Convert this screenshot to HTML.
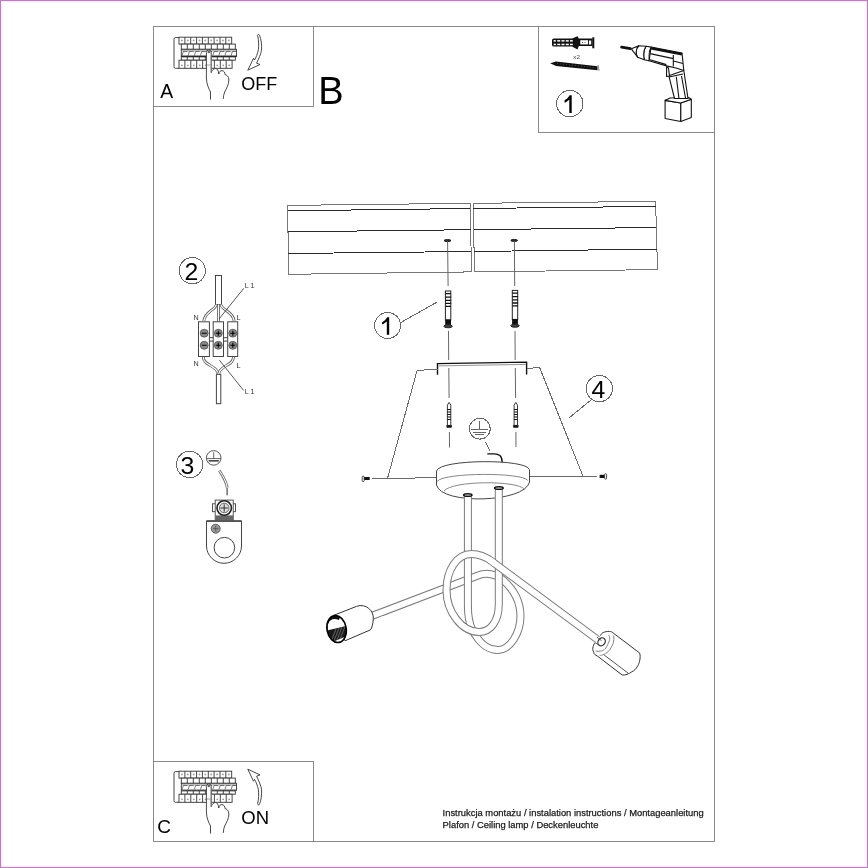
<!DOCTYPE html>
<html><head><meta charset="utf-8">
<style>
html,body{margin:0;padding:0;background:#fff;}
body{width:868px;height:868px;overflow:hidden;position:relative;}
#bd{position:absolute;left:0;top:0;width:866px;height:866px;border:1px solid #b882b8;}
#bd3{position:absolute;left:2px;top:2px;width:862px;height:862px;border:1px solid #fff6ff;}
#bd2{position:absolute;left:1px;top:1px;width:864px;height:864px;border:1px solid #fbe6fb;}
svg{position:absolute;left:0;top:0;will-change:transform;}
text{font-family:"Liberation Sans",sans-serif;}
</style></head><body>
<div id="bd"></div><div id="bd2"></div><div id="bd3"></div>
<svg width="868" height="868" viewBox="0 0 868 868">
<g id="frame" fill="none" stroke="#8a8a8a" stroke-width="1" shape-rendering="crispEdges">
  <rect x="153.5" y="26.5" width="561" height="815"/>
  <path d="M313.5 26.5V106.5H153.5"/>
  <path d="M538.5 26.5V132.5H714.5"/>
  <path d="M153.5 761.5H313.5V841.5"/>
</g>
<defs>
<g id="panelA">
<path d="M179 37.6H175.5Q174 37.6 174 39.2V66.7Q174 68.3 175.5 68.3H179" fill="none" stroke="#333" stroke-width="0.9"/>
<rect x="179" y="37.2" width="52.7" height="6.9" fill="#fff" stroke="#333" stroke-width="0.9"/>
<path d="M184.9 37.2V44.1" stroke="#333" stroke-width="0.9"/>
<path d="M190.7 37.2V44.1" stroke="#333" stroke-width="0.9"/>
<path d="M196.6 37.2V44.1" stroke="#333" stroke-width="0.9"/>
<path d="M202.4 37.2V44.1" stroke="#333" stroke-width="0.9"/>
<path d="M208.3 37.2V44.1" stroke="#333" stroke-width="0.9"/>
<path d="M214.1 37.2V44.1" stroke="#333" stroke-width="0.9"/>
<path d="M220.0 37.2V44.1" stroke="#333" stroke-width="0.9"/>
<path d="M225.8 37.2V44.1" stroke="#333" stroke-width="0.9"/>
<circle cx="181.9" cy="40.4" r="0.9" fill="#999"/>
<circle cx="187.8" cy="40.4" r="0.9" fill="#999"/>
<circle cx="193.6" cy="40.4" r="0.9" fill="#999"/>
<circle cx="199.5" cy="40.4" r="0.9" fill="#999"/>
<circle cx="205.3" cy="40.4" r="0.9" fill="#999"/>
<circle cx="211.2" cy="40.4" r="0.9" fill="#999"/>
<circle cx="217.1" cy="40.4" r="0.9" fill="#999"/>
<circle cx="222.9" cy="40.4" r="0.9" fill="#999"/>
<circle cx="228.8" cy="40.4" r="0.9" fill="#999"/>
<rect x="181.3" y="44.1" width="54.0" height="5.2" fill="#fff" stroke="#333" stroke-width="0.9"/>
<path d="M187.3 44.1V49.3" stroke="#333" stroke-width="0.9"/>
<path d="M193.3 44.1V49.3" stroke="#333" stroke-width="0.9"/>
<path d="M199.3 44.1V49.3" stroke="#333" stroke-width="0.9"/>
<path d="M205.3 44.1V49.3" stroke="#333" stroke-width="0.9"/>
<path d="M211.3 44.1V49.3" stroke="#333" stroke-width="0.9"/>
<path d="M217.3 44.1V49.3" stroke="#333" stroke-width="0.9"/>
<path d="M223.3 44.1V49.3" stroke="#333" stroke-width="0.9"/>
<path d="M229.3 44.1V49.3" stroke="#333" stroke-width="0.9"/>
<rect x="181.3" y="49.3" width="55.2" height="6.9" fill="#fff" stroke="#333" stroke-width="0.9"/>
<path d="M181.3 50.9H236.5" stroke="#666" stroke-width="0.7"/>
<path d="M182.1 55.5L183.3 51.5H187.4" fill="none" stroke="#444" stroke-width="0.7"/>
<path d="M188.2 55.5L189.4 51.5H193.6" fill="none" stroke="#444" stroke-width="0.7"/>
<path d="M194.4 55.5L195.6 51.5H199.7" fill="none" stroke="#444" stroke-width="0.7"/>
<path d="M200.5 55.5L201.7 51.5H205.8" fill="none" stroke="#444" stroke-width="0.7"/>
<path d="M206.6 55.5L207.8 51.5H212.0" fill="none" stroke="#444" stroke-width="0.7"/>
<path d="M212.8 55.5L214.0 51.5H218.1" fill="none" stroke="#444" stroke-width="0.7"/>
<path d="M218.9 55.5L220.1 51.5H224.2" fill="none" stroke="#444" stroke-width="0.7"/>
<path d="M225.0 55.5L226.2 51.5H230.4" fill="none" stroke="#444" stroke-width="0.7"/>
<path d="M231.2 55.5L232.4 51.5H236.5" fill="none" stroke="#444" stroke-width="0.7"/>
<path d="M181.3 56.3H236.5" stroke="currentColor" stroke-width="1.3"/>
<rect x="181.3" y="56.9" width="54.0" height="3.3" fill="#fff" stroke="#333" stroke-width="0.9"/>
<path d="M187.3 56.9V60.2" stroke="#333" stroke-width="0.9"/>
<path d="M193.3 56.9V60.2" stroke="#333" stroke-width="0.9"/>
<path d="M199.3 56.9V60.2" stroke="#333" stroke-width="0.9"/>
<path d="M205.3 56.9V60.2" stroke="#333" stroke-width="0.9"/>
<path d="M211.3 56.9V60.2" stroke="#333" stroke-width="0.9"/>
<path d="M217.3 56.9V60.2" stroke="#333" stroke-width="0.9"/>
<path d="M223.3 56.9V60.2" stroke="#333" stroke-width="0.9"/>
<path d="M229.3 56.9V60.2" stroke="#333" stroke-width="0.9"/>
<rect x="179" y="60.2" width="53.1" height="8.1" fill="#fff" stroke="#333" stroke-width="0.9"/>
<path d="M184.9 60.2V68.3" stroke="#333" stroke-width="0.9"/>
<path d="M190.8 60.2V68.3" stroke="#333" stroke-width="0.9"/>
<path d="M196.7 60.2V68.3" stroke="#333" stroke-width="0.9"/>
<path d="M202.6 60.2V68.3" stroke="#333" stroke-width="0.9"/>
<path d="M208.5 60.2V68.3" stroke="#333" stroke-width="0.9"/>
<path d="M214.4 60.2V68.3" stroke="#333" stroke-width="0.9"/>
<path d="M220.3 60.2V68.3" stroke="#333" stroke-width="0.9"/>
<path d="M226.2 60.2V68.3" stroke="#333" stroke-width="0.9"/>
<circle cx="181.9" cy="65.3" r="0.9" fill="#999"/>
<circle cx="187.8" cy="65.3" r="0.9" fill="#999"/>
<circle cx="193.8" cy="65.3" r="0.9" fill="#999"/>
<circle cx="199.7" cy="65.3" r="0.9" fill="#999"/>
<circle cx="205.6" cy="65.3" r="0.9" fill="#999"/>
<circle cx="211.4" cy="65.3" r="0.9" fill="#999"/>
<circle cx="217.3" cy="65.3" r="0.9" fill="#999"/>
<circle cx="223.2" cy="65.3" r="0.9" fill="#999"/>
<circle cx="229.2" cy="65.3" r="0.9" fill="#999"/>
<path d="M210.5 99.6V92C209 89 206.4 84 206.4 78V52.5Q206.4 50 208.8 50Q211.2 50 211.2 52.5V72.6C212.2 70 213.5 68.5 215.2 68.5C217.2 68.5 218.5 70.5 218.8 74C219.2 71.5 220.5 70.6 222 70.6C223.8 70.6 225 72.5 225.1 74.7C226.5 74.7 228.9 76.5 228.9 80C228.9 85 226 89 224.7 92C223.8 94 223.3 96.5 223.3 98.9" fill="#fff" stroke="#333" stroke-width="0.9"/>
<path d="M207 65H210.6M211.2 52.5V72.6" stroke="#888" stroke-width="0.8" fill="none"/>
<circle cx="208.8" cy="52" r="1.3" fill="#666"/>
</g>
<g id="arrowOff"><path d="M257.6 35.7C258.8 40 258.8 46 258.4 49.7C257.5 54 256 57.5 254.5 60L253.5 58.2L247.8 70.2L260 64.5L256.6 63.2C258.5 59 261 54 261.5 50.2C262 45 261 39 259.7 35.7C259 34 258 34 257.6 35.7Z" fill="#fff" stroke="#333" stroke-width="0.9"/></g>
</defs>
<use href="#panelA" style="color:#000"/>
<use href="#panelA" transform="translate(0 734)" style="color:#555"/>
<use href="#arrowOff"/>
<use href="#arrowOff" transform="translate(0 839.4) scale(1 -1)"/>
<g id="item2">
<circle cx="192.25" cy="270.65" r="13.1" fill="none" stroke="#666" stroke-width="1" shape-rendering="crispEdges"/>
<rect x="215.5" y="275.5" width="6" height="29" fill="#fff" stroke="#444" stroke-width="1"/>
<rect x="216.4" y="374.3" width="4.4" height="29.4" fill="#fff" stroke="#444" stroke-width="1"/>
<g fill="none" stroke-linecap="butt">
<path id="w1" d="M216.3 304.5C216 310 205 311 203.8 321" stroke="#555" stroke-width="2.8"/>
<path d="M216.3 304.5C216 310 205 311 203.8 321" stroke="#fff" stroke-width="1.2"/>
<path d="M221 304.5C221 310 233 311 234.2 321" stroke="#555" stroke-width="2.8"/>
<path d="M221 304.5C221 310 233 311 234.2 321" stroke="#fff" stroke-width="1.2"/>
<path d="M218.6 304.5V321.8" stroke="#555" stroke-width="2.8"/>
<path d="M218.6 304.5V321.8" stroke="#fff" stroke-width="1.2"/>
<path d="M203.3 357C203.3 366 217 365 218.3 374" stroke="#555" stroke-width="2.8"/>
<path d="M203.3 357C203.3 366 217 365 218.3 374" stroke="#fff" stroke-width="1.2"/>
<path d="M233.5 357C233.5 366 220 365 218.6 374" stroke="#555" stroke-width="2.8"/>
<path d="M233.5 357C233.5 366 220 365 218.6 374" stroke="#fff" stroke-width="1.2"/>
</g>
<g fill="#fff" stroke="#444" stroke-width="1">
<rect x="198.5" y="321.8" width="10.9" height="34.7"/>
<rect x="213.2" y="321.8" width="10.3" height="34.7"/>
<rect x="227.7" y="321.8" width="10" height="34.7"/>
<path d="M209.4 337.7H213.2M209.4 341.1H213.2M223.5 337.7H227.7M223.5 341.1H227.7"/>
</g>
<g fill="#8a8a8a" stroke="#333" stroke-width="0.6">
<circle cx="204.2" cy="333.2" r="4"/><circle cx="218.3" cy="333.2" r="4"/><circle cx="232.8" cy="333.2" r="4"/>
<circle cx="204.2" cy="345.3" r="4"/><circle cx="218.3" cy="345.3" r="4"/><circle cx="232.8" cy="345.3" r="4"/>
</g>
<path d="M201.7 333.2H206.7M201.7 345.3H206.7M215.8 333.2H220.8M218.3 330.7V335.7M215.8 345.3H220.8M218.3 342.8V347.8M230.3 333.2H235.3M232.8 330.7V335.7M230.3 345.3H235.3M232.8 342.8V347.8" stroke="#000" stroke-width="1.1"/>
<path d="M243.7 288.4L219 319M219.4 360.2L243.6 390.4" stroke="#444" stroke-width="0.9" fill="none"/>
<g font-size="7.2" fill="#333">
<text x="244.8" y="287.6">L 1</text>
<text x="244.8" y="393.6">L 1</text>
<text x="193.6" y="320.4">N</text>
<text x="236.6" y="320.4">L</text>
<text x="193.6" y="365.8">N</text>
<text x="236.6" y="367.8">L</text>
</g>
</g>
<g id="item3">
<circle cx="189.65" cy="464.45" r="13.2" fill="none" stroke="#666" stroke-width="1" shape-rendering="crispEdges"/>
<circle cx="213.7" cy="457.9" r="7.3" fill="none" stroke="#444" stroke-width="0.9"/>
<path d="M213.7 452.2V458.6M206.4 458.6H221M208.7 460.8H218.8" stroke="#555" stroke-width="0.9"/>
<path d="M208.7 460.8H218.8" stroke="#444" stroke-width="1.4"/>
<path d="M219.3 470.6C222 475 226.5 481 227.2 488" stroke="#777" stroke-width="2.8" fill="none"/>
<path d="M219.3 470.6C222 475 226.5 481 227.2 488" stroke="#fff" stroke-width="1" fill="none"/><path d="M227.1 488V495.3" stroke="#555" stroke-width="1.3"/>
<path d="M206.5 520.9H241.5V546C241.5 555.5 233.5 563.3 224 563.3C214.5 563.3 206.5 555.5 206.5 546Z" fill="#fff" stroke="#444" stroke-width="1"/>
<path d="M206.5 521.2H241.5" stroke="#555" stroke-width="1.8"/>
<circle cx="224.4" cy="547.7" r="10.3" fill="none" stroke="#444" stroke-width="1"/>
<circle cx="215.7" cy="528.7" r="4.5" fill="#999" stroke="#333" stroke-width="0.7"/>
<path d="M213 528.7H218.4M215.7 526V531.4" stroke="#444" stroke-width="0.7"/>
<rect x="212.5" y="503.8" width="23" height="7.9" fill="#fff" stroke="#444" stroke-width="0.9"/>
<rect x="215.2" y="500.1" width="18" height="20.3" fill="#fff" stroke="#444" stroke-width="0.9"/>
<rect x="215.2" y="515.4" width="18" height="5" fill="#666"/>
<circle cx="224.2" cy="508" r="7.2" fill="#fff" stroke="#222" stroke-width="1.6"/>
<circle cx="224.2" cy="508" r="4.8" fill="#ddd" stroke="#444" stroke-width="0.8"/>
<path d="M220.5 508H227.9M224.2 504.3V511.7" stroke="#333" stroke-width="1"/>
</g>
<g id="drillbox">
<circle cx="569.8" cy="103.6" r="13.2" fill="none" stroke="#666" stroke-width="1" shape-rendering="crispEdges"/>
<g>
<path d="M552 40Q552 38.5 554 38.5H572L577.5 36.2L578.8 38.5H592.5V46H578.8L577.5 49.4L572 46.5H554Q552 46.5 552 45Z" fill="#111"/>
<g fill="#fff">
<rect x="553.6" y="40.1" width="2.3" height="1.5"/><rect x="557.2" y="40.1" width="3" height="1.5"/><rect x="561.5" y="40.1" width="3" height="1.5"/><rect x="565.8" y="40.1" width="3" height="1.5"/><rect x="570" y="40.1" width="2.8" height="1.5"/>
<rect x="553.6" y="43.7" width="2.3" height="1.5"/><rect x="557.2" y="43.7" width="3" height="1.5"/><rect x="561.5" y="43.7" width="3" height="1.5"/><rect x="565.8" y="43.7" width="3" height="1.5"/><rect x="570" y="43.7" width="2.8" height="1.5"/>
<rect x="580.3" y="40.2" width="7.8" height="4.2"/>
<rect x="589" y="40.5" width="2.2" height="4"/>
</g>
<path d="M582 42.5h1.2M584.5 42.3h1" stroke="#333" stroke-width="0.8"/>
<rect x="592.3" y="37.3" width="2" height="11" fill="#111"/>
<text x="573.3" y="58.6" font-size="6.2" fill="#444">x2</text>
<path d="M550.2 63.3L556 61.5L597.5 66.2L597.5 70.3L556 66Z" fill="#111"/>
<path d="M557 63.6L596 67.8" stroke="#777" stroke-width="0.7" stroke-dasharray="0.8 2.2"/>
<path d="M598 64.8L599 70.8" stroke="#999" stroke-width="1.2"/>
<g stroke="#111" stroke-width="1.1" fill="#fff" stroke-linejoin="round">
<path d="M665.1 100.4L680.8 103L680.8 121.5L665.1 118.5Z"/>
<path d="M680.8 103L691.3 99.3L691.3 117.6L680.8 121.5Z"/>
<path d="M665.1 100.4L670 98L688.5 97.5L691.3 99.3L680.8 103Z"/>
<path d="M668.8 75.7L674.5 98.5L688 98.5L683.8 70.5Z"/>
<path d="M676.3 76.8L679 98.9M669 77L683 74M681.5 76L685.5 98" fill="none"/>
<path d="M666.6 66.7L666.6 76.5L669.5 76L668.5 68Z"/>
<path d="M651 47L682 53L683.8 70.5L676 68L666.4 65.9L649.1 60.8Z"/>
<path d="M651 48.2L682 54.3" stroke-width="2.6" fill="none"/>
<path d="M650.2 53.6L673.3 58.6M673.3 55V66.5M673.5 61L683 63.5M650 59.8L666.4 64.6" fill="none"/>
<path d="M646 46.3L651.2 47.1C649.5 50 648.8 54 649.1 56L649.1 60.8L644.4 59.8C643.2 57 643.2 50 646 46.3Z"/>
<path d="M638.7 45.8L646 46.3C643.5 50 643.2 55 644.4 59.8L637.7 57.2C635.5 54 635.5 49 638.7 45.8Z"/>
<path d="M632 48.4L638.7 45.8C635.5 49 635.5 54 637.7 57.2L632 49.9Z"/>
</g>
<path d="M621.6 47.2L630.4 48.7" stroke="#111" stroke-width="2.8" stroke-linecap="round"/>
</g>
<g id="letters" fill="#000">
  <text x="160.3" y="97.8" font-size="19.4">A</text>
  <text x="318.3" y="103.9" font-size="38">B</text>
  <text x="241.2" y="90.2" font-size="18">OFF</text>
  <text x="157.3" y="833" font-size="19">C</text>
  <text x="241.3" y="824.3" font-size="18.5">ON</text>
</g>
<g id="planks" fill="none" stroke="#777" stroke-width="1" shape-rendering="crispEdges">
<path d="M287.5 205.4L470.2 203.3L471.5 271.9L288.8 274.3Z"/>
<path d="M473.3 203.3L655.6 201.4L657.5 269.6L474.4 271.9Z"/>
</g>
<g id="plank-lines" fill="none" stroke="#2a2a2a" stroke-width="1" shape-rendering="crispEdges">
<path d="M287.6 210.8L470.3 208.5"/>
<path d="M288.0 231.8L470.7 229.7"/>
<path d="M288.4 253.5L471.1 251.5"/>
<path d="M473.4 208.5L655.7 206.4"/>
<path d="M473.7 229.7L656.3 227.5"/>
<path d="M474.1 251.5L656.9 249.1"/>
</g>
<g id="holes" fill="#333" stroke="#111" stroke-width="0.9">
<ellipse cx="447.5" cy="240.6" rx="3.4" ry="1"/>
<ellipse cx="514.2" cy="240.4" rx="3.4" ry="1"/>
</g>
<g id="axis" fill="none" stroke="#666" stroke-width="1">
<path d="M447.6 241.5L448.1 286M448.5 331L448.7 360M448.8 368L449.1 398M449.4 432L449.5 447.5"/>
<path d="M514.4 241.5L514.7 286M515 331L515.2 360M515.3 368L515.6 398M515.9 432L516 447"/>
</g>
<g id="plugs">
<g transform="translate(448.1 0)">
<rect x="-2.7" y="291" width="5.4" height="29" fill="#fff" stroke="#222" stroke-width="1"/>
<path d="M-2.7 293.6h5.6M-2.7 297.1h5.8M-2.7 300.3h5.8M-2.7 303.4h5.8M-2.7 306.3h5.6" stroke="#111" stroke-width="1.3"/>
<rect x="-2.9" y="319.5" width="5.8" height="5.3" fill="#111"/>
<ellipse cx="0" cy="326.2" rx="4.2" ry="1.6" fill="#444" stroke="#111" stroke-width="0.8"/>
</g>
<g transform="translate(515 0)">
<rect x="-2.7" y="290.4" width="5.4" height="29" fill="#fff" stroke="#222" stroke-width="1"/>
<path d="M-2.7 293.2h5.6M-2.7 296.7h5.8M-2.7 299.9h5.8M-2.7 303h5.8M-2.7 305.9h5.6" stroke="#111" stroke-width="1.3"/>
<rect x="-2.9" y="319" width="5.8" height="5.3" fill="#111"/>
<ellipse cx="0" cy="325.7" rx="4.2" ry="1.6" fill="#444" stroke="#111" stroke-width="0.8"/>
</g>
</g>
<g id="screws">
<g transform="translate(449.1 0)">
<path d="M0 402.4L1.7 405.1V425.4H-1.7V405.1Z" fill="#fff" stroke="#222" stroke-width="0.9"/>
<path d="M-1.7 409.5h3.4M-1.7 412h3.4M-1.7 414.5h3.4M-1.7 417h3.4M-1.7 419.5h3.4" stroke="#111" stroke-width="1.1"/>
<path d="M-2.9 425.2H3L2.4 427.8H-2.4Z" fill="#111"/>
</g>
<g transform="translate(515.8 0)">
<path d="M0 402.4L1.7 405.1V425.4H-1.7V405.1Z" fill="#fff" stroke="#222" stroke-width="0.9"/>
<path d="M-1.7 409.5h3.4M-1.7 412h3.4M-1.7 414.5h3.4M-1.7 417h3.4M-1.7 419.5h3.4" stroke="#111" stroke-width="1.1"/>
<path d="M-2.9 425.2H3L2.4 427.8H-2.4Z" fill="#111"/>
</g>
</g>
<g id="bracket" fill="none" stroke="#111">
<path d="M437.5 374.8V363.6L526.6 362.1V374.6" stroke-width="1.4"/>
<path d="M438.5 365.9L525.8 364.4" stroke="#888" stroke-width="0.9"/>
</g>
<g id="trap" fill="none" stroke="#6a6a6a" stroke-width="1" shape-rendering="crispEdges">
<path d="M437.5 369.3L417.1 370.4L387.5 478.4"/>
<path d="M526.6 368.3L539.7 367.7L583.1 476.4"/>
<path d="M372.3 478.4L437 477.8M529.5 477L597.5 476.4"/>
</g>
<g id="sidescrews">
<rect x="362.2" y="476.1" width="2" height="5.5" rx="1" fill="#fff" stroke="#222" stroke-width="0.8"/>
<rect x="364.2" y="477" width="5.5" height="3" fill="#111"/>
<rect x="599.6" y="474.8" width="5.2" height="3.2" fill="#111"/>
<rect x="604.6" y="473.7" width="2" height="5.5" rx="1" fill="#fff" stroke="#222" stroke-width="0.8"/>
</g>
<g id="callouts" fill="none" stroke="#666" stroke-width="1" shape-rendering="crispEdges">
<circle cx="387.6" cy="325.5" r="13"/>
<path d="M401.2 322.3L437 302.1"/>
<circle cx="599.4" cy="388.6" r="13.1"/>
<path d="M591.4 399.7L569.3 417.7"/>
<circle cx="479.8" cy="428.7" r="10.4"/>
<path d="M479.8 421.1V429.7M471.4 429.7H488.4M473.1 432.3H486.3M475.2 434.3H484.2"/>
<path d="M485.7 442.2L490.1 451.5"/>
</g>
<path d="M487.3 453.9H493.2C499 453.6 502.2 456 502.2 462.2" fill="none" stroke="#111" stroke-width="1.3"/>
<path d="M389.2 317.2V334.8H386.8V321.3C385.6 322.6 383.9 323.8 382.1 324.6V322.2C384.2 321.2 386 319.4 387.1 317.2Z" fill="#000"/>
<path d="M389.2 317.2V334.8H386.8V321.3C385.6 322.6 383.9 323.8 382.1 324.6V322.2C384.2 321.2 386 319.4 387.1 317.2Z" fill="#000" transform="translate(182.5 -221.9)"/>
<g fill="#000" font-size="24.8" text-anchor="middle">
<text x="191.3" y="279.6">2</text>
<text x="187.3" y="473.5">3</text>
<text x="598.3" y="397.6">4</text>
</g>
<g id="canopy" fill="#fff" stroke="#444" stroke-width="1">
<path d="M436.5 471C437 463 530 461 529.3 469.5V482C529.5 493 437 493 437 485Z" stroke="none"/>
<path d="M436.5 471C440 458.8 527 458.8 529.3 469.5" fill="none"/>
<path d="M436.5 471V485C441 505 525 503 529.5 482V469.5" fill="none"/>
<path d="M437.2 481.2C445 472.3 522 472.3 527.8 480.4" fill="none" stroke="#888"/>
<path d="M444 491C452 480.6 517 480 524.8 489.4" fill="none" stroke="#888"/>
</g>
<defs>
<path id="Aarm" d="M371 616.3L478 575.5C486 572.5 496 573.5 503 580C512 588 520.5 600 520.5 616C520.5 633 510 650 498 650C489 650 481 644 476 636C474.5 634 473.3 632 472.3 630"/>
<path id="Avert" d="M472.3 630C469.5 624 467.9 616 467.9 606L467.9 495"/>
<path id="Bmain" d="M498.8 488L498.8 604C498.8 622 490 632 479 632C462 632 446.5 612 446.5 590C446.5 570 457 554 471.5 554C480 554 486 557 492 561.5"/>
<path id="Barm" d="M492 561.5L600 641.4"/>
</defs>
<g id="tubes" fill="none" stroke-linecap="butt" stroke-linejoin="round">
<use href="#Aarm" stroke="#7a7a7a" stroke-width="8"/><use href="#Aarm" stroke="#fff" stroke-width="6"/>
<use href="#Avert" stroke="#7a7a7a" stroke-width="8"/><use href="#Avert" stroke="#fff" stroke-width="6"/>
<use href="#Bmain" stroke="#7a7a7a" stroke-width="8"/><use href="#Bmain" stroke="#fff" stroke-width="6"/>
<use href="#Barm" stroke="#7a7a7a" stroke-width="8"/><use href="#Barm" stroke="#fff" stroke-width="6"/>
<path d="M489.6 559.7L494.4 563.3" stroke="#fff" stroke-width="6"/>
</g>
<ellipse cx="467.8" cy="495" rx="4.2" ry="1.3" fill="#fff" stroke="#111" stroke-width="1.5"/>
<ellipse cx="498.9" cy="488" rx="4.3" ry="1.3" fill="#fff" stroke="#111" stroke-width="1.5"/>
<g id="lsock">
<path d="M333.9 615.3L356.7 606.3C366 603 374 611 373.3 618.7C373 624 372 628 370.5 629.8L345 640.8Z" fill="#fff" stroke="#333" stroke-width="1"/>
<clipPath id="lsc"><ellipse cx="336.6" cy="629" rx="9.6" ry="13.6" transform="rotate(-10 336.6 629)"/></clipPath>
<ellipse cx="336.6" cy="629" rx="9.6" ry="13.6" transform="rotate(-10 336.6 629)" fill="#fff"/>
<g clip-path="url(#lsc)">
<path d="M325 631L348 625.5L348 635.5L330 643Z" fill="#1a1a1a"/>
<path d="M331 642L336 629M334 641L339 628M337 640L342 627M340 639L345 626.5" stroke="#777" stroke-width="0.8"/>
<path d="M326 622C328 616 334 614 340 617L339 620C334 618 330 619 328 624Z" fill="#111"/>
</g>
<ellipse cx="336.6" cy="629" rx="9.6" ry="13.6" transform="rotate(-10 336.6 629)" fill="none" stroke="#000" stroke-width="1.6"/>
</g>
<g id="rsock" fill="none" stroke="#333" stroke-width="1">
<path d="M600.6 635.6C601 633 604 631.5 609.3 631.4C611 631.5 612.5 632 613.2 633L639.6 653C641 657 639.5 663 637.7 665.9C636 669 634 671 631.9 671.7C629 674 625 675.5 622.2 675L597.7 656.3C595 655 593.5 653.5 593.8 652.4C592.5 650 592.5 648 592.8 648.5C593 646 594 644 595.1 642.7" fill="#fff"/>
<path d="M608.6 635C610 637 610 639 609.3 640.8C608 644 607 646 606.1 647.9C604 650 602.5 651 600.9 651.1C599 651.5 597 651.3 595.7 651.1" stroke="#888"/>
<path d="M613.8 635.6C614 638 613.8 641 613.2 643.4C612 646 611 648 609.9 649.8C608 652 606 653.5 604.1 654.3C602 655 601 655.5 599.6 655.6" stroke="#888"/>
<path d="M604.1 655L628 673" stroke="#555"/>
<ellipse cx="601.6" cy="641.8" rx="3.4" ry="4.2" transform="rotate(36 601.6 641.8)" fill="#fff" stroke="#333" stroke-width="1.3"/>
<path d="M597 637.2L601.5 640.6M595 642.6L599.6 645.4" stroke="#555" stroke-width="1"/>
</g>
<g id="footer" fill="#1a1a1a" stroke="#1a1a1a" stroke-width="0.25" font-size="9.4">
  <text x="442.6" y="815.9">Instrukcja montażu / instalation instructions / Montageanleitung</text>
  <text x="442.6" y="828">Plafon / Ceiling lamp / Deckenleuchte</text>
</g>
</svg>
</body></html>
